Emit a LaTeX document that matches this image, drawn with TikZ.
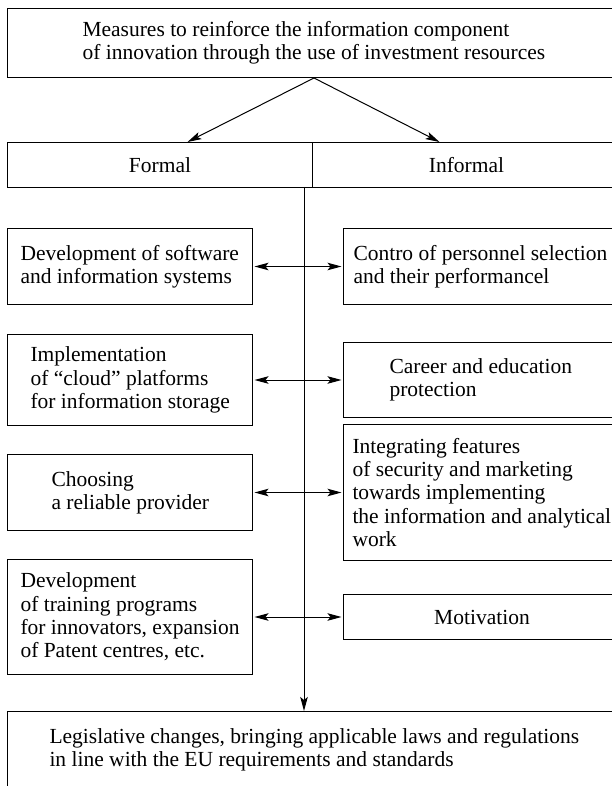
\documentclass[tikz,border=0pt]{standalone}
\usepackage{fontspec}
\setmainfont{Liberation Serif}
\usetikzlibrary{positioning, arrows.meta}

\begin{document}
\begin{tikzpicture}[x=1pt, y=-1pt, >={Stealth[length=14pt, width=7.5pt, inset=3pt]}, line width=1pt]
        \tikzstyle{every node}=[font=\fontsize{21.5pt}{23.3pt}\selectfont]
        \tikzstyle{panel}=[draw, anchor=north west, inner sep=0pt]
        \tikzstyle{note}=[align=left, inner sep=0pt, anchor=west]

        \useasboundingbox (0,0) rectangle (612,786);

        \node (top) [panel, minimum width=613pt, minimum height=69pt] at (7,8) {};
        \node (top text) [note, right=75pt of top.west] {Measures to reinforce the information component\\of innovation through the use of investment resources};

        \node (formal)   [panel, minimum width=305pt, minimum height=45pt] at (7,142) {Formal};
        \node (informal) [panel, minimum width=308pt, minimum height=45pt] at (312,142) {Informal};

        \node (left 1) [panel, minimum width=245pt, minimum height=76pt]  at (7,228) {};
        \node (left 2) [panel, minimum width=245pt, minimum height=91pt]  at (7,334) {};
        \node (left 3) [panel, minimum width=245pt, minimum height=76pt]  at (7,454) {};
        \node (left 4) [panel, minimum width=245pt, minimum height=115pt] at (7,559) {};

        \node (right 1) [panel, minimum width=277pt, minimum height=76pt]  at (343,228) {};
        \node (right 2) [panel, minimum width=277pt, minimum height=75pt]  at (343,342) {};
        \node (right 3) [panel, minimum width=277pt, minimum height=136pt] at (343,424) {};
        \node (right 4) [panel, minimum width=277pt, minimum height=45pt]  at (343,594) {Motivation};

        \node (law) [panel, minimum width=613pt, minimum height=77pt] at (7,711) {};

        \node (left 1 text) [note, right=13pt of left 1.west] {Development of software\\and information systems};
        \node (left 2 text) [note, right=23pt of left 2.west] {Implementation\\of “cloud” platforms\\for information storage};
        \node (left 3 text) [note, right=44pt of left 3.west] {Choosing\\a reliable provider};
        \node (left 4 text) [note, right=13pt of left 4.west] {Development\\of training programs\\for innovators, expansion\\of Patent centres, etc.};

        \node (right 1 text) [note, right=10pt of right 1.west] {Contro of personnel selection\\and their performancel};
        \node (right 2 text) [note, right=46pt of right 2.west] {Career and education\\protection};
        \node (right 3 text) [note, right=9pt of right 3.west] {Integrating features\\of security and marketing\\towards implementing\\the information and analytical\\work};

        \node (law text) [note, right=42pt of law.west] {Legislative changes, bringing applicable laws and regulations\\in line with the EU requirements and standards};

        \coordinate (spine) at (304,187);

        \draw[->] (top.south) -- ([xshift=27.5pt]formal.north);
        \draw[->] (top.south) -- ([xshift=-27pt]informal.north);
        \draw[->] (spine) -- (spine |- law.north);

        \foreach \i in {1,...,4}
            \draw[<->, shorten <=1.5pt, shorten >=1.5pt] (left \i.east) -- (right \i.west);

    \end{tikzpicture}
\end{document}
